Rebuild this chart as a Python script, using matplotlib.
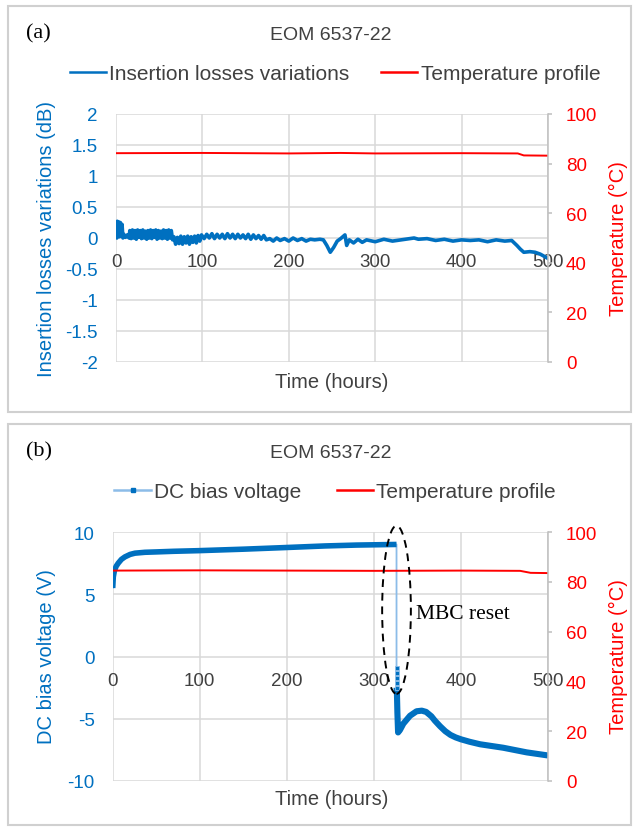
"""EOM 6537-22 ageing test: insertion losses (a) and DC bias voltage (b) vs time."""
import matplotlib
matplotlib.use("Agg")
import matplotlib.pyplot as plt
from matplotlib.patches import Rectangle, Ellipse
from matplotlib.lines import Line2D

BLUE = "#0070C0"
LIGHT_BLUE = "#8CBCE8"
RED = "#FF0000"
GRID = "#D9D9D9"
TXT = "#404040"
SANS = "Liberation Sans"
SERIF = "Liberation Serif"

# ---- panel (a) data: insertion loss variations (dB) ----
IL_HOURS = ([0, 0.5, 1, 1.5, 2, 3, 4, 5, 6, 7, 8, 9, 11, 13, 15]
            + [16, 17.5, 19, 20.5, 22, 23.5, 25, 26.5, 28, 29.5, 31, 32.5, 34, 35.5,
               37, 38.5, 40, 41.5, 43, 44.5, 46, 47.5, 49, 50.5, 52, 53.5, 55, 56.5,
               58, 59.5, 61, 62.5, 64]
            + [65.5, 67, 69, 71, 73, 75, 77, 79, 81, 83, 85, 87, 89, 91, 93, 95, 97, 99]
            + [102, 105, 108, 111, 114, 117, 120, 123, 126, 129, 132, 135, 138, 141,
               144, 147, 150, 153, 156, 159, 162, 165, 168, 171, 174]
            + [178, 182, 186, 190, 195, 200, 205, 210, 215, 220, 225, 230, 236]
            + [240, 244, 248, 252, 256, 260, 265, 267, 270]
            + [275, 280, 285, 290, 300, 310, 320, 330, 340, 345, 350, 360, 370, 380,
               390, 400, 410, 420, 430, 440, 450, 458]
            + [464, 468, 472, 479, 485, 491, 496, 500])
IL_DB = ([0.02, 0.22, 0.0, 0.27, 0.05, 0.26, 0.02, 0.25, 0.03, 0.22, 0.0, 0.06, 0.01,
          0.05, 0.0]
         + [0.12, -0.01, 0.13, 0.0, 0.12, -0.02, 0.13, 0.01, 0.12, -0.01,
            0.13, 0.0, 0.11, -0.02, 0.12, 0.0, 0.13, -0.01, 0.12, 0.01,
            0.13, -0.02, 0.12, 0.0, 0.11, -0.01, 0.13, 0.0, 0.12, -0.02,
            0.13, 0.0, 0.12]
         + [-0.03, 0.02, -0.1, 0.01, -0.09, 0.03, -0.1, 0.02, -0.08, 0.03, -0.1, 0.02,
            -0.07, 0.03, -0.08, 0.04, -0.05, 0.05]
         + [-0.01, 0.06, 0.0, 0.07, -0.01, 0.06, 0.0, 0.06, -0.01, 0.07,
            0.0, 0.06, -0.01, 0.06, 0.0, 0.05, -0.01, 0.06, -0.02, 0.05,
            -0.01, 0.04, -0.02, 0.04, -0.03]
         + [-0.01, -0.05, 0.0, -0.04, -0.01, -0.05, 0.0, -0.04, -0.01, -0.05, -0.02,
            -0.03, -0.02]
         + [-0.03, -0.12, -0.23, -0.15, -0.05, -0.01, 0.05, -0.12, -0.03]
         + [-0.08, -0.02, -0.07, -0.03, -0.06, -0.02, -0.05, -0.03, -0.01, 0.0, -0.02,
            -0.01, -0.04, -0.02, -0.05, -0.03, -0.04, -0.03, -0.06, -0.03, -0.05, -0.04]
         + [-0.12, -0.18, -0.23, -0.22, -0.23, -0.26, -0.3, -0.33])
TA_HOURS = [0, 100, 200, 260, 300, 400, 465, 472, 500]
TA_DEG = [84.2, 84.3, 84.1, 84.3, 84.1, 84.2, 84.1, 83.3, 83.2]

# ---- panel (b) data: DC bias voltage (V) ----
DC_PRE_H = [0, 0.7, 2, 4, 6.4, 10, 14, 20, 25.6, 37, 50, 70, 98, 150, 198, 244, 280, 326]
DC_PRE_V = [5.5, 6.4, 6.9, 7.25, 7.5, 7.8, 8.0, 8.2, 8.3, 8.37, 8.4, 8.45, 8.5, 8.62, 8.75,
            8.88, 8.95, 9.0]
DC_JUMP_H = [326, 326, 326, 326, 326]
DC_JUMP_V = [-0.9, -1.3, -1.7, -2.1, -2.5]
DC_POST_H = [326, 326.5, 327, 327.8, 330, 333.8, 341.5, 349, 355, 360, 366, 370, 376, 382,
             388, 394, 400, 410, 422, 448.7, 475.5, 500]
DC_POST_V = [-2.5, -3.0, -4.5, -6.1, -5.9, -5.4, -4.76, -4.4, -4.35, -4.45, -4.8, -5.15,
             -5.6, -6.0, -6.3, -6.5, -6.65, -6.85, -7.05, -7.33, -7.7, -7.95]
TB_HOURS = [0, 100, 200, 300, 400, 468, 480, 500]
TB_DEG = [84.5, 84.6, 84.5, 84.4, 84.5, 84.4, 83.6, 83.5]

W, H = 639, 829
fig = plt.figure(figsize=(W / 100, H / 100), dpi=100, facecolor="white")


def fx(px):
    return px / W


def fy(py):
    return 1 - py / H


def style_axes(ax, ax2, ylim, yticks, ytlabels):
    ax.set_xlim(0, 500)
    ax.set_ylim(*ylim)
    ax.set_xticks([0, 100, 200, 300, 400, 500])
    ax.set_yticks(yticks)
    ax.set_yticklabels(ytlabels)
    ax.grid(True, color=GRID, lw=1.1)
    ax.set_axisbelow(True)
    for s in ["left", "right", "top"]:
        ax.spines[s].set_visible(False)
    # category labels sit under the zero line, Excel-style
    ax.spines["bottom"].set_position(("data", 0))
    ax.spines["bottom"].set_visible(False)
    ax.tick_params(axis="x", length=0, pad=11, labelsize=13.5, labelcolor=TXT)
    ax.tick_params(axis="y", length=0, pad=13, labelsize=13.5, labelcolor=BLUE)
    for lab in ax.get_xticklabels() + ax.get_yticklabels():
        lab.set_fontfamily(SANS)

    ax2.set_ylim(0, 100)
    ax2.set_yticks([0, 20, 40, 60, 80, 100])
    for s in ["left", "top", "bottom"]:
        ax2.spines[s].set_visible(False)
    ax2.spines["right"].set_color("#BFBFBF")
    ax2.spines["right"].set_linewidth(1.1)
    ax2.tick_params(axis="y", length=3, width=1.1, color="#BFBFBF", pad=10,
                    labelsize=13.5, labelcolor=RED)
    for lab in ax2.get_yticklabels():
        lab.set_fontfamily(SANS)


def panel_text(dy, tag, ylab, frame_h):
    fig.text(fx(26), fy(34 + dy), tag, family=SERIF, fontsize=16, va="center",
             color="black")
    fig.text(fx(331), fy(36 + dy), "EOM 6537-22", family=SANS, fontsize=14,
             ha="center", va="center", color=TXT)
    fig.text(fx(47), fy(239 + dy), ylab, family=SANS, fontsize=14.5, rotation=90,
             ha="center", va="center", color=BLUE)
    fig.text(fx(618), fy(239 + dy), "Temperature (°C)", family=SANS, fontsize=14.5,
             rotation=90, ha="center", va="center", color=RED)
    fig.text(fx(332), fy(382 + dy), "Time (hours)", family=SANS, fontsize=14.5,
             ha="center", va="center", color=TXT)
    fig.patches.append(Rectangle((fx(8), fy(7 + dy + frame_h)), fx(623), frame_h / H,
                                 transform=fig.transFigure, fill=False,
                                 edgecolor="#D0D0D0", lw=1.5))


DY_B = 418

# ---------------- panel (a) ----------------
ax_a = fig.add_axes([fx(116), fy(363), fx(548 - 116), 248 / H])
ax_a2 = ax_a.twinx()
style_axes(ax_a, ax_a2, (-2, 2), [-2, -1.5, -1, -0.5, 0, 0.5, 1, 1.5, 2],
           ["-2", "-1.5", "-1", "-0.5", "0", "0.5", "1", "1.5", "2"])
ax_a.plot(IL_HOURS, IL_DB, color=BLUE, lw=2.6)
ax_a2.plot(TA_HOURS, TA_DEG, color=RED, lw=1.4)
panel_text(0, "(a)", "Insertion losses variations (dB)", 406)

handles_a = [Line2D([], [], color=BLUE, lw=1.8), Line2D([], [], color=RED, lw=1.8)]
fig.legend(handles_a, ["Insertion losses variations", "Temperature profile"],
           loc="center", bbox_to_anchor=(fx(335), fy(75)), ncol=2, frameon=False,
           prop={"family": SANS, "size": 15}, handlelength=1.75, handletextpad=0.15,
           columnspacing=1.5, labelcolor=TXT)

# ---------------- panel (b) ----------------
ax_b = fig.add_axes([fx(112.7), fy(782), fx(548 - 112.7), 249 / H])
ax_b2 = ax_b.twinx()
style_axes(ax_b, ax_b2, (-10, 10), [-10, -5, 0, 5, 10], ["-10", "-5", "0", "5", "10"])
# thin connecting line of the whole series, then the dense marker band on top
ax_b.plot(DC_PRE_H + DC_JUMP_H + DC_POST_H, DC_PRE_V + DC_JUMP_V + DC_POST_V,
          color=LIGHT_BLUE, lw=1.3)
ax_b.plot(DC_PRE_H, DC_PRE_V, color=BLUE, lw=4.0, solid_capstyle="butt")
ax_b.plot(DC_POST_H, DC_POST_V, color=BLUE, lw=4.4, solid_capstyle="butt")
ax_b.plot(DC_JUMP_H, DC_JUMP_V, ls="none", marker="s", ms=3.2, color=BLUE,
          markeredgecolor=LIGHT_BLUE, markeredgewidth=0.6)
ax_b2.plot(TB_HOURS, TB_DEG, color=RED, lw=1.4)

ell = Ellipse((326, 3.75), 33, 13.5, transform=ax_b.transData, fill=False,
              edgecolor="black", lw=1.4, ls=(0, (4, 3)), clip_on=False, zorder=5)
ax_b2.add_patch(ell)
fig.text(fx(416), fy(615), "MBC reset", family=SERIF, fontsize=15.5,
         va="center", ha="left", color="black")
panel_text(DY_B, "(b)", "DC bias voltage (V)", 401)

handles_b = [Line2D([], [], color=LIGHT_BLUE, lw=1.8, marker="s", ms=3.5,
                    markerfacecolor=BLUE, markeredgecolor=BLUE),
             Line2D([], [], color=RED, lw=1.8)]
fig.legend(handles_b, ["DC bias voltage", "Temperature profile"],
           loc="center", bbox_to_anchor=(fx(335), fy(75 + DY_B)), ncol=2, frameon=False,
           prop={"family": SANS, "size": 15}, handlelength=1.75, handletextpad=0.15,
           columnspacing=1.7, labelcolor=TXT)

fig.savefig("out.png", dpi=100, facecolor="white")
